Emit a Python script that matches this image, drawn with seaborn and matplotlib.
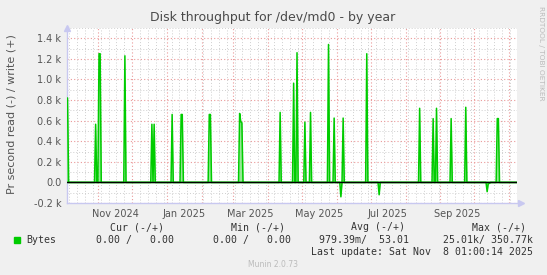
import matplotlib
matplotlib.use("Agg")
import matplotlib.pyplot as plt
import matplotlib.dates as mdates
import matplotlib.transforms as mtransforms
from matplotlib.ticker import MultipleLocator, FixedLocator, NullFormatter
import numpy as np
import pandas as pd
import seaborn as sns

# ---------------- data ----------------
title = "Disk throughput for /dev/md0 - by year"
y_label = "Pr second read (-) / write (+)"
period_start = "2024-10-04 01:00"
period_end = "2025-11-08 01:00"

write_dates = ["2024-10-03", "2024-10-04", "2024-10-29", "2024-11-01", "2024-11-02", "2024-11-24",
               "2024-12-18", "2024-12-20", "2025-01-05", "2025-01-13", "2025-01-14",
               "2025-02-07", "2025-02-08", "2025-03-06", "2025-03-07", "2025-03-08",
               "2025-04-11", "2025-04-23", "2025-04-26", "2025-05-03", "2025-05-08",
               "2025-05-24", "2025-05-29", "2025-06-06", "2025-06-27", "2025-08-13",
               "2025-08-25", "2025-08-28", "2025-09-10", "2025-09-23", "2025-10-21",
               "2025-10-22"]
write_values = [820, 820, 565, 1250, 1250, 1230,
                565, 565, 660, 660, 660,
                660, 660, 670, 590, 580,
                680, 964, 1260, 585, 680,
                1340, 625, 625, 1250, 720,
                620, 720, 620, 730, 620,
                620]

read_dates = ["2025-06-04", "2025-07-08", "2025-10-12", "2025-10-13", "2025-10-14"]
read_values = [140, 120, 90, 10, 10]

y_ticks = [-200, 0, 200, 400, 600, 800, 1000, 1200, 1400]
y_tick_labels = ["-0.2 k", "0.0", "0.2 k", "0.4 k", "0.6 k", "0.8 k", "1.0 k", "1.2 k", "1.4 k"]
y_limits = (-200, 1500)

x_label_dates = ["2024-11-16", "2025-01-16", "2025-03-16", "2025-05-16", "2025-07-16", "2025-09-16"]
x_labels = ["Nov 2024", "Jan 2025", "Mar 2025", "May 2025", "Jul 2025", "Sep 2025"]

legend_name = "Bytes"
col_headers = ["Cur (-/+)", "Min (-/+)", "Avg (-/+)", "Max (-/+)"]
col_values = ["0.00 /   0.00", "0.00 /   0.00", "979.39m/  53.01", "25.01k/ 350.77k"]
last_update = "Last update: Sat Nov  8 01:00:14 2025"
footer = "Munin 2.0.73"
side_text = "RRDTOOL / TOBI OETIKER"

# ---------------- build daily series ----------------
days = pd.date_range("2024-10-02", "2025-11-09", freq="D")
series = pd.Series(0.0, index=days)
for d, v in zip(write_dates, write_values):
    series[pd.Timestamp(d)] += v
read_series = pd.Series(0.0, index=days)
for d, v in zip(read_dates, read_values):
    read_series[pd.Timestamp(d)] += v
df = pd.DataFrame({"date": days + pd.Timedelta(hours=12),
                   "write": series.values, "read": -read_series.values})

# ---------------- style ----------------
sns.set_theme(style="white")
plt.rcParams["font.family"] = ["DejaVu Sans"]

W, H = 547, 275
fig = plt.figure(figsize=(W / 100, H / 100), dpi=100)
fig.patch.set_facecolor("#F0F0F0")

left, right, top, bottom = 67, 517, 28, 203
ax = fig.add_axes([left / W, 1 - bottom / H, (right - left) / W, (bottom - top) / H])
ax.set_facecolor("white")

green = "#00CC00"
for col in ["write", "read"]:
    ax.fill_between(df["date"], df[col], 0, color="#8ae88a", alpha=0.9, lw=0, zorder=2)
    sns.lineplot(data=df, x="date", y=col, ax=ax, color=green, lw=1.1,
                 estimator=None, zorder=3, legend=False)

ax.axhline(0, color="black", lw=1.0, zorder=4)

ax.set_xlim(pd.Timestamp(period_start), pd.Timestamp(period_end))
ax.set_ylim(*y_limits)

# grid
ax.xaxis.set_major_locator(mdates.MonthLocator())
ax.xaxis.set_minor_locator(mdates.WeekdayLocator(byweekday=mdates.SU))
ax.xaxis.set_major_formatter(NullFormatter())
ax.yaxis.set_major_locator(FixedLocator(y_ticks))
ax.set_yticklabels(y_tick_labels)
ax.yaxis.set_minor_locator(MultipleLocator(100))

ax.grid(which="minor", color="#cfcfcf", linestyle=(0, (1, 2)), lw=0.7, zorder=0)
ax.grid(which="major", color="#eb9999", linestyle=(0, (1, 2)), lw=0.8, zorder=1)

ax.tick_params(axis="y", which="major", labelsize=7, labelcolor="#555555", length=2,
               color="#aaaaaa", direction="out", pad=2)
ax.tick_params(axis="y", which="minor", length=0)
ax.tick_params(axis="x", which="major", length=3, color="#e08080", direction="inout")
ax.tick_params(axis="x", which="minor", length=2, color="#aaaaaa", direction="inout")

for s in ["top", "right"]:
    ax.spines[s].set_visible(False)
for s in ["left", "bottom"]:
    ax.spines[s].set_color("#c8c8f0")
    ax.spines[s].set_linewidth(1.0)
    ax.spines[s].set_zorder(1.5)
ax.set_xlabel("")
ax.set_ylabel("")

# axis arrows
ax.plot([1.008], [0], marker=">", color="#c8c8f0", markersize=5, transform=ax.transAxes, clip_on=False)
ax.plot([0], [1.0], marker="^", color="#c8c8f0", markersize=5, transform=ax.transAxes, clip_on=False)

# x labels at mid-month
trans = mtransforms.blended_transform_factory(ax.transData, ax.transAxes)
for d, lab in zip(x_label_dates, x_labels):
    ax.text(mdates.date2num(pd.Timestamp(d)), -0.035, lab, transform=trans, ha="center", va="top",
            fontsize=7, color="#555555")

# texts
fig.text(273 / W, 1 - 18 / H, title, ha="center", va="center", fontsize=9, color="#4a4a4a")
fig.text(12 / W, 1 - 114 / H, y_label, rotation=90, ha="center", va="center", fontsize=8, color="#555555")
fig.text(541 / W, 1 - 6 / H, side_text, rotation=270, ha="center", va="top", fontsize=5.3, color="#bbbbbb")

mono = "DejaVu Sans Mono"
fs = 7.15
fig.patches.append(plt.Rectangle((14 / W, 1 - 243 / H), 6 / W, 6 / H, transform=fig.transFigure,
                                 color=green, zorder=5))
fig.text(26 / W, 1 - 240 / H, legend_name, ha="left", va="center", fontsize=fs, family=mono, color="#333333")
header_right = [164, 285, 405, 526]
value_right = [174, 291, 409, 533]
for x, t in zip(header_right, col_headers):
    fig.text(x / W, 1 - 227.5 / H, t, ha="right", va="center", fontsize=fs, family=mono, color="#333333")
for x, t in zip(value_right, col_values):
    fig.text(x / W, 1 - 240 / H, t, ha="right", va="center", fontsize=fs, family=mono, color="#333333")
fig.text(533 / W, 1 - 252 / H, last_update, ha="right", va="center", fontsize=fs, family=mono, color="#333333")
fig.text(273 / W, 1 - 264.5 / H, footer, ha="center", va="center", fontsize=5.5, color="#bbbbbb")

fig.savefig("out.png", dpi=100, facecolor=fig.get_facecolor())
